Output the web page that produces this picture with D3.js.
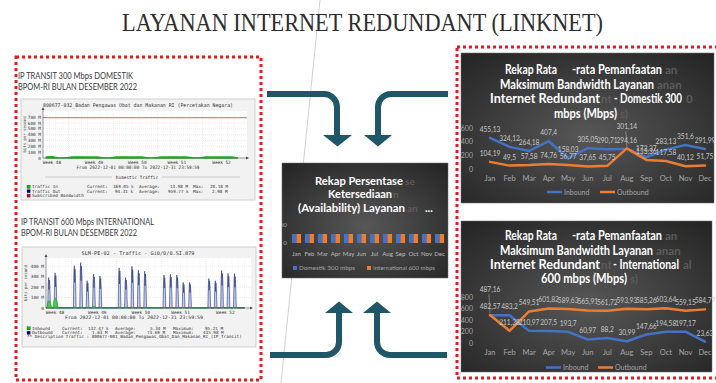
<!DOCTYPE html>
<html>
<head>
<meta charset="utf-8">
<title>Layanan Internet Redundant (Linknet)</title>
<script src="https://cdn.jsdelivr.net/npm/d3@7/dist/d3.min.js"></script>
<style>
  body { margin: 0; background: #fff; }
  svg { display: block; }
  text { white-space: pre; }
</style>
</head>
<body>
<div id="viz"></div>
<script>
var w = 716;
var h = 383;

// ---- values ----
var months = ["Jan", "Feb", "Mar", "Apr", "May", "Jun", "Jul", "Aug", "Sep", "Oct", "Nov", "Dec"];

// domestik 300 mbps (Mbps)
var domInbound  = [455.13, 324.12, 264.18, 407.4, 158.03, 305.05, 290.71, 294.16, 172.37, 283.13, 351.6, 291.99];
var domOutbound = [104.19, 49.5, 57.58, 74.76, 56.77, 37.65, 45.75, 301.14, 133.36, 117.58, 40.12, 51.75];
var domTicks = [0, 200, 400, 600];
var domTitle = ["Rekap Rata   -rata Pemanfaatan", "Maksimum Bandwidth Layanan", "Internet Redundant    - Domestik 300", "mbps (Mbps)"];

// international 600 mbps (Mbps)
var intInbound  = [482.57, 483.2, 210.97, 207.5, 193.7, 60.97, 88.2, 30.99, 147.66, 194.58, 197.17, 23.63];
var intOutbound = [487.16, 211.38, 549.51, 601.82, 589.63, 565.91, 561.72, 593.93, 585.26, 603.64, 559.15, 584.77];
var intTicks = [0, 200, 400, 600, 800];
var intTitle = ["Rekap Rata   -rata Pemanfaatan", "Maksimum Bandwidth Layanan", "Internet Redundant    - International", "600 mbps (Mbps)"];

// availability (%)
var availDom = [99.98, 100, 99.97, 100, 99.95, 100, 99.99, 100, 99.96, 100, 99.98, 100];
var availInt = [100, 99.97, 100, 99.99, 100, 99.96, 100, 99.98, 100, 99.97, 100, 99.99];
var availTicks = [0, 200];
var availTitle = ["Rekap Persentase", "Ketersediaan", "(Availability) Layanan"];
var availSeries = ["Domestik 300 mbps", "International 600 mbps"];

// mrtg screenshots, one value per day of december 2022 (M)
var weekLabels = ["Week 48", "Week 49", "Week 50", "Week 51", "Week 52"];
var weekDays = [1.4, 8, 14.8, 21, 28];
var domDailyIn = [18, 20.18, 3, 3, 19, 20, 19, 18, 17, 3, 3, 19, 20, 19, 18, 17, 3, 3, 18, 19, 20, 18, 17, 3, 3, 16, 18, 19, 18, 17, 3];
var domSubscribed = 690;
var domMrtgTicks = [0, 100, 200, 300, 400, 500, 600, 700];
var intDailyOut = [292, 338, 0, 0, 406, 436, 262, 323, 308, 0, 0, 385, 292, 400, 363, 354, 0, 0, 317, 323, 317, 246, 246, 0, 0, 283, 262, 360, 332, 329, 0];
var intDailyIn = [70, 95.21, 0, 0, 6, 5, 6, 14, 8, 0, 0, 5, 6, 5, 4, 5, 0, 0, 4, 5, 5, 4, 4, 0, 0, 4, 4, 5, 4, 4, 0];
var intMrtgTicks = [0, 100, 200, 300, 400];

var blue = "#4472c4", orange = "#ed7d31";
var teal = "#1f5768", dotRed = "#e8191f";

var svg = d3.select("#viz")
    .append("svg")
    .attr("width", w)
    .attr("height", h)
    .style("font-family", "Lato, 'Open Sans', sans-serif");

var defs = svg.append("defs");
var grad = defs.append("radialGradient").attr("id", "darkBg")
    .attr("cx", "50%").attr("cy", "55%").attr("r", "70%");
grad.append("stop").attr("offset", "0%").attr("stop-color", "#575757");
grad.append("stop").attr("offset", "100%").attr("stop-color", "#262626");

function fmt(v) { return String(v).replace(".", ","); }

// faint diagonal line behind everything
svg.append("line")
    .attr("x1", 320).attr("y1", 0).attr("x2", 281).attr("y2", h)
    .attr("stroke", "#c4c4c4").attr("stroke-width", 0.8);

// slide title
svg.append("text")
    .attr("x", 122).attr("y", 31)
    .attr("textLength", 481).attr("lengthAdjust", "spacingAndGlyphs")
    .attr("font-family", "'Liberation Serif', 'DejaVu Serif', serif")
    .attr("font-size", 26)
    .attr("fill", "#2e2e2e")
    .text("LAYANAN INTERNET REDUNDANT (LINKNET)");

// red dotted frames
svg.append("rect").attr("x", 16).attr("y", 57).attr("width", 245).attr("height", 323)
    .attr("fill", "none").attr("stroke", dotRed).attr("stroke-width", 3).attr("stroke-dasharray", "3 3");
svg.append("rect").attr("x", 457).attr("y", 47).attr("width", 280).attr("height", 331)
    .attr("fill", "none").attr("stroke", dotRed).attr("stroke-width", 3).attr("stroke-dasharray", "3 3");

// ---------- chart titles: white text, with the grey shadow copy peeking out ----------
// a line with a wide gap is split into pieces, each piece gets [x, width]
function titleBlock(g, lines, layout, ghosts, size) {
    lines.forEach(function(s, i) {
        var L = layout[i];
        (ghosts[i] || []).forEach(function(gh) {
            g.append("text").attr("x", gh[1]).attr("y", L.y)
                .attr("font-size", size - 1).attr("font-weight", "bold")
                .attr("fill", "#5c5c5c").text(gh[0]);
        });
        s.split(/\s{3,}/).forEach(function(piece, k) {
            g.append("text").attr("x", L.seg[k][0]).attr("y", L.y)
                .attr("textLength", L.seg[k][1]).attr("lengthAdjust", "spacingAndGlyphs")
                .attr("font-size", size).attr("font-weight", "bold")
                .attr("fill", "#ffffff").text(piece);
        });
    });
}

// ---------- line charts on the right ----------
function lineChart(o) {
    var g = svg.append("g");
    g.append("rect").attr("x", o.box[0]).attr("y", o.box[1])
        .attr("width", o.box[2]).attr("height", o.box[3])
        .attr("fill", "url(#darkBg)").attr("stroke", "#6a6a6a").attr("stroke-width", 0.5);

    titleBlock(g, o.title, o.titleLayout, o.ghosts, 12.5);

    var x = d3.scalePoint().domain(months).range([490, 705]);
    var y = d3.scaleLinear().domain([0, d3.max(o.ticks)]).range(o.yRange);

    g.selectAll("text.ytick").data(o.ticks).enter().append("text")
        .attr("class", "ytick")
        .attr("x", 473).attr("y", function(d) { return y(d) + 2.5; })
        .attr("text-anchor", "end").attr("font-size", 7).attr("fill", "#a6a6a6")
        .text(function(d) { return d; });

    g.selectAll("text.xtick").data(months).enter().append("text")
        .attr("class", "xtick")
        .attr("x", function(d) { return x(d); }).attr("y", o.xLabelY)
        .attr("text-anchor", "middle").attr("font-size", 7.5).attr("fill", "#a6a6a6")
        .text(function(d) { return d; });

    var line = d3.line()
        .x(function(d, i) { return x(months[i]); })
        .y(function(d) { return y(d); });

    var series = [{ v: o.inbound, c: blue }, { v: o.outbound, c: orange }];
    series.forEach(function(s) {
        g.append("path").datum(s.v)
            .attr("d", line)
            .attr("fill", "none").attr("stroke", s.c).attr("stroke-width", 2.5)
            .attr("stroke-linejoin", "round").attr("stroke-linecap", "round");
    });

    series.forEach(function(s, si) {
        g.selectAll("text.dl" + si).data(s.v).enter().append("text")
            .attr("class", "dl" + si)
            .attr("x", function(d, i) { return x(months[i]); })
            .attr("y", function(d, i) {
                var lift = (o.lift[si] && o.lift[si][i]) || 0;
                return y(d) - 6 - lift;
            })
            .attr("text-anchor", "middle").attr("font-size", 6.6).attr("fill", "#c9c9c9")
            .text(fmt);
        // leader lines for labels that were moved up
        Object.keys(o.lift[si] || {}).forEach(function(k) {
            var i = +k, lift = o.lift[si][k];
            g.append("line")
                .attr("x1", x(months[i]) - 1).attr("x2", x(months[i]))
                .attr("y1", y(s.v[i]) - 4 - lift).attr("y2", y(s.v[i]) - 2)
                .attr("stroke", "#bfbfbf").attr("stroke-width", 0.5);
        });
    });

    // legend
    var ly = o.legendY;
    var lg = g.append("g");
    lg.append("line").attr("x1", o.legendX[0]).attr("x2", o.legendX[0] + 15).attr("y1", ly).attr("y2", ly)
        .attr("stroke", blue).attr("stroke-width", 2.5);
    lg.append("text").attr("x", o.legendX[0] + 17).attr("y", ly + 2.5).attr("font-size", 7).attr("fill", "#a6a6a6").text("Inbound");
    lg.append("line").attr("x1", o.legendX[1]).attr("x2", o.legendX[1] + 15).attr("y1", ly).attr("y2", ly)
        .attr("stroke", orange).attr("stroke-width", 2.5);
    lg.append("text").attr("x", o.legendX[1] + 17).attr("y", ly + 2.5).attr("font-size", 7).attr("fill", "#a6a6a6").text("Outbound");
}

lineChart({
    box: [461, 53, 253, 150],
    title: domTitle,
    titleLayout: [
        { y: 74, seg: [[505, 52], [572, 90]] },
        { y: 88.5, seg: [[500, 154]] },
        { y: 103, seg: [[490, 110], [614, 68]] },
        { y: 117.5, seg: [[554, 63]] }
    ],
    ghosts: [[["an", 665]], [["anan", 657]], [["nt", 601], ["0", 686]], [["s)", 620]]],
    ticks: domTicks,
    yRange: [169, 128],
    xLabelY: 181,
    inbound: domInbound,
    outbound: domOutbound,
    lift: [{}, { 7: 13 }],
    legendY: 192,
    legendX: [547, 600]
});

lineChart({
    box: [461, 221, 251, 151],
    title: intTitle,
    titleLayout: [
        { y: 240, seg: [[505, 52], [572, 90]] },
        { y: 254.5, seg: [[500, 153]] },
        { y: 268.5, seg: [[490, 110], [613, 66]] },
        { y: 283, seg: [[541, 86]] }
    ],
    ghosts: [[["an", 665]], [["anan", 656]], [["nt", 601], ["al", 683]], [["s)", 630]]],
    ticks: intTicks,
    yRange: [343, 297],
    xLabelY: 355,
    inbound: intInbound,
    outbound: intOutbound,
    lift: [{}, { 0: 17 }],
    legendY: 367.5,
    legendX: [546, 598]
});

// ---------- availability bar chart in the middle ----------
(function() {
    var g = svg.append("g");
    defs.append("clipPath").attr("id", "availClip")
        .append("rect").attr("x", 282).attr("y", 163).attr("width", 166).attr("height", 115);
    g.append("rect").attr("x", 282).attr("y", 163).attr("width", 166).attr("height", 115)
        .attr("fill", "url(#darkBg)").attr("stroke", "#6a6a6a").attr("stroke-width", 0.5);

    titleBlock(g, availTitle,
        [{ y: 185, seg: [[315, 88]] }, { y: 198, seg: [[328, 64]] }, { y: 211.5, seg: [[298, 107]] }],
        [[["se", 405]], [["n", 393]], [["an", 407]]], 11);
    g.append("text").attr("x", 425).attr("y", 211.5).attr("font-size", 11).attr("font-weight", "bold")
        .attr("fill", "#fff").text("...");

    var x = d3.scaleBand().domain(months).range([290, 446]).paddingInner(0.3).paddingOuter(0.15);
    var sub = d3.scaleBand().domain([0, 1]).range([0, x.bandwidth()]);
    var y = d3.scaleLinear().domain([0, d3.max(availTicks)]).range([243, 225]);

    g.append("g").attr("clip-path", "url(#availClip)")
        .selectAll("text").data(availTicks).enter().append("text")
        .attr("x", 287).attr("y", function(d) { return y(d) + 2.2; })
        .attr("text-anchor", "end").attr("font-size", 6.3).attr("fill", "#a6a6a6")
        .text(function(d) { return d; });

    [availDom, availInt].forEach(function(vals, si) {
        g.selectAll("rect.b" + si).data(vals).enter().append("rect")
            .attr("class", "b" + si)
            .attr("x", function(d, i) { return x(months[i]) + sub(si); })
            .attr("y", function(d) { return y(d); })
            .attr("width", sub.bandwidth())
            .attr("height", function(d) { return y(0) - y(d); })
            .attr("fill", si === 0 ? blue : orange);
    });

    g.selectAll("text.m").data(months).enter().append("text")
        .attr("class", "m")
        .attr("x", function(d) { return x(d) + x.bandwidth() / 2; }).attr("y", 255.5)
        .attr("text-anchor", "middle").attr("font-size", 6.1).attr("fill", "#bfbfbf")
        .text(function(d) { return d; });

    var lx = [[293, 299, 56], [367, 373, 62]];
    availSeries.forEach(function(s, i) {
        g.append("rect").attr("x", lx[i][0]).attr("y", 266).attr("width", 4).attr("height", 4)
            .attr("fill", i === 0 ? blue : orange);
        g.append("text").attr("x", lx[i][1]).attr("y", 270)
            .attr("textLength", lx[i][2]).attr("lengthAdjust", "spacingAndGlyphs")
            .attr("font-size", 6).attr("fill", "#a6a6a6").text(s);
    });
})();

// ---------- arrows ----------
var arrows = [
    { d: "M267,94 H324 A13,13 0 0 1 337,107 V136", head: [[323, 135], [352, 135], [337.5, 146.5]] },
    { d: "M448,94 H391 A13,13 0 0 0 378,107 V136", head: [[364, 135], [392, 135], [378, 146.5]] },
    { d: "M270,355 H326 A13,13 0 0 0 339,342 V312", head: [[325, 313], [353, 313], [339, 301.5]] },
    { d: "M447,355 H390 A13,13 0 0 1 377,342 V312", head: [[363, 313], [391, 313], [377, 301.5]] }
];
arrows.forEach(function(a) {
    svg.append("path").attr("d", a.d).attr("fill", "none").attr("stroke", teal).attr("stroke-width", 6);
    svg.append("polygon").attr("points", a.head.map(function(p) { return p.join(","); }).join(" ")).attr("fill", teal);
});

// ---------- left panel: mrtg screenshots ----------
var mono = "'DejaVu Sans Mono', 'Liberation Mono', monospace";
var spikeShape = [[0.27, 0], [0.35, 0.8], [0.42, 1], [0.47, 0.6], [0.53, 0.92], [0.6, 0.72], [0.7, 0]];
var humpShape = [[0.05, 0], [0.3, 0.85], [0.45, 1], [0.65, 0.8], [0.95, 0]];

function mrtg(o) {
    var g = svg.append("g");
    g.append("rect").attr("x", o.box[0]).attr("y", o.box[1]).attr("width", o.box[2]).attr("height", o.box[3])
        .attr("fill", "#f2f2f2").attr("stroke", "#c6c6c6").attr("stroke-width", 0.8);
    g.append("text").attr("x", o.titleX).attr("y", o.box[1] + 8).attr("text-anchor", "middle")
        .attr("textLength", o.titleW).attr("lengthAdjust", "spacingAndGlyphs")
        .attr("font-family", mono).attr("font-size", 5.2).attr("fill", "#333").text(o.title);

    var x = d3.scaleLinear().domain([0, 32]).range(o.xr);
    var y = d3.scaleLinear().domain(o.yd).range(o.yr);

    g.append("rect").attr("x", o.xr[0]).attr("y", o.yr[1]).attr("width", o.xr[1] - o.xr[0]).attr("height", o.yr[0] - o.yr[1])
        .attr("fill", "#fff");
    g.selectAll("line.vg").data(d3.range(1, 32)).enter().append("line")
        .attr("x1", function(d) { return x(d); }).attr("x2", function(d) { return x(d); })
        .attr("y1", o.yr[0]).attr("y2", o.yr[1])
        .attr("stroke", function(d) { return (d - 4) % 7 === 0 ? "#f1caca" : "#ececec"; })
        .attr("stroke-width", 0.5).attr("stroke-dasharray", "1 1");
    g.selectAll("line.hg").data(o.ticks.slice(1)).enter().append("line")
        .attr("x1", o.xr[0]).attr("x2", o.xr[1])
        .attr("y1", function(d) { return y(d); }).attr("y2", function(d) { return y(d); })
        .attr("stroke", "#dcdcdc").attr("stroke-width", 0.5).attr("stroke-dasharray", "1 1");

    o.draw(g, x, y);

    // axes with small arrow heads
    g.append("path").attr("d", "M" + o.xr[0] + "," + (o.yr[1] - 3) + " V" + o.yr[0] + " H" + (o.xr[1] + 1))
        .attr("fill", "none").attr("stroke", "#555").attr("stroke-width", 0.6);
    g.append("path").attr("d", "M" + (o.xr[0] - 1.5) + "," + (o.yr[1] - 1) + " L" + o.xr[0] + "," + (o.yr[1] - 4) + " L" + (o.xr[0] + 1.5) + "," + (o.yr[1] - 1) + "Z")
        .attr("fill", "#555");
    g.append("path").attr("d", "M" + (o.xr[1] - 1) + "," + (o.yr[0] - 1.5) + " L" + (o.xr[1] + 2) + "," + o.yr[0] + " L" + (o.xr[1] - 1) + "," + (o.yr[0] + 1.5) + "Z")
        .attr("fill", "#555");

    g.selectAll("text.yt").data(o.ticks).enter().append("text")
        .attr("x", o.xr[0] - 2).attr("y", function(d) { return y(d) + 1.6; })
        .attr("text-anchor", "end").attr("font-family", mono).attr("font-size", 4.4).attr("fill", "#333")
        .text(function(d) { return d === 0 ? "0" : d + " M"; });
    g.append("text").attr("transform", "translate(" + (o.box[0] + 4.5) + "," + ((o.yr[0] + o.yr[1]) / 2) + ") rotate(-90)")
        .attr("text-anchor", "middle").attr("font-family", mono).attr("font-size", 4).attr("fill", "#444")
        .text("bits per second");

    g.selectAll("text.wk").data(weekLabels).enter().append("text")
        .attr("x", function(d, i) { return x(weekDays[i]); }).attr("y", o.yr[0] + 5.5)
        .attr("text-anchor", "middle").attr("font-family", mono).attr("font-size", 4.4).attr("fill", "#333")
        .text(function(d) { return d; });
    g.append("text").attr("x", o.fromX).attr("y", o.yr[0] + 10.5).attr("text-anchor", "middle")
        .attr("textLength", o.fromW).attr("lengthAdjust", "spacingAndGlyphs")
        .attr("font-family", mono).attr("font-size", 4.6).attr("fill", "#333")
        .text("From 2022-12-01 00:00:00 To 2022-12-31 23:59:59");

    if (o.header) {
        var hy = o.header.y;
        g.append("line").attr("x1", 45).attr("x2", 112).attr("y1", hy - 1.5).attr("y2", hy - 1.5).attr("stroke", "#888").attr("stroke-width", 0.4);
        g.append("line").attr("x1", 162).attr("x2", 240).attr("y1", hy - 1.5).attr("y2", hy - 1.5).attr("stroke", "#888").attr("stroke-width", 0.4);
        g.append("text").attr("x", 137).attr("y", hy).attr("text-anchor", "middle")
            .attr("font-family", mono).attr("font-size", 4.4).attr("fill", "#333").text(o.header.text);
    }

    o.legend.forEach(function(row) {
        if (row.color) {
            g.append("rect").attr("x", 27).attr("y", row.y - 3).attr("width", 3.2).attr("height", 3.2)
                .attr("fill", row.color).attr("stroke", "#333").attr("stroke-width", 0.3);
        }
        row.cells.forEach(function(c) {
            g.append("text").attr("x", c[0]).attr("y", row.y)
                .attr("font-family", mono).attr("font-size", 4.3).attr("fill", "#333").text(c[1]);
        });
    });
}

function shapePoints(vals, shape, base) {
    var pts = [];
    vals.forEach(function(v, i) {
        if (v > 0) {
            shape.forEach(function(s) { pts.push({ t: i + s[0], v: base + s[1] * (v - base) }); });
        }
    });
    return pts;
}

svg.append("text").attr("x", 18).attr("y", 79)
    .attr("textLength", 115).attr("lengthAdjust", "spacingAndGlyphs")
    .attr("font-size", 8.6).attr("fill", "#3a3a3a").text("IP TRANSIT 300 Mbps DOMESTIK");
svg.append("text").attr("x", 18).attr("y", 90)
    .attr("textLength", 119).attr("lengthAdjust", "spacingAndGlyphs")
    .attr("font-size", 8.6).attr("fill", "#3a3a3a").text("BPOM-RI BULAN DESEMBER 2022");

mrtg({
    box: [21, 99, 234, 101],
    title: "800677-032_Badan Pengawas Obat dan Makanan RI (Percetakan Negara)",
    titleX: 138, titleW: 190,
    xr: [43, 247], yd: [0, 805], yr: [158, 111],
    ticks: domMrtgTicks,
    fromX: 138, fromW: 123,
    header: { y: 178.5, text: "Domestic Traffic" },
    legend: [
        { y: 188.2, color: "#00c000", cells: [[32, "Traffic In"], [87, "Current:"], [113, "369.05 k"], [139, "Average:"], [170, "13.98 M"], [193, "Max:"], [210, "20.18 M"]] },
        { y: 192.6, color: "#0000b0", cells: [[32, "Traffic Out"], [87, "Current:"], [115, "94.31 k"], [139, "Average:"], [168, "959.77 k"], [193, "Max:"], [212, "2.98 M"]] },
        { y: 197, color: "#a02020", cells: [[32, "Subscribed Bandwidth"]] }
    ],
    draw: function(g, x, y) {
        var area = d3.area().curve(d3.curveMonotoneX)
            .x(function(d, i) { return x(i + 0.5); }).y0(y(0)).y1(function(d) { return y(d); });
        g.append("path").datum(domDailyIn).attr("d", area)
            .attr("fill", "#33cc33").attr("stroke", "#22b022").attr("stroke-width", 1.4);
        g.append("line").attr("x1", x(0)).attr("x2", x(32))
            .attr("y1", y(domSubscribed)).attr("y2", y(domSubscribed))
            .attr("stroke", "#c84040").attr("stroke-width", 0.8);
    }
});

svg.append("text").attr("x", 21).attr("y", 225)
    .attr("textLength", 133).attr("lengthAdjust", "spacingAndGlyphs")
    .attr("font-size", 8.6).attr("fill", "#3a3a3a").text("IP TRANSIT 600 Mbps INTERNATIONAL");
svg.append("text").attr("x", 21).attr("y", 236)
    .attr("textLength", 116).attr("lengthAdjust", "spacingAndGlyphs")
    .attr("font-size", 8.6).attr("fill", "#3a3a3a").text("BPOM-RI BULAN DESEMBER 2022");

mrtg({
    box: [22, 247, 234, 100],
    title: "SLM-PE-02 - Traffic - Gi0/0/0.SI.879",
    titleX: 138, titleW: 113,
    xr: [46, 251], yd: [0, 480], yr: [308, 258],
    ticks: intMrtgTicks,
    fromX: 134, fromW: 138,
    legend: [
        { y: 329.8, color: "#00c000", cells: [[32, "Inbound"], [62, "Current:"], [88, "132.47 k"], [115, "Average:"], [150, "5.34 M"], [173, "Maximum:"], [205, "95.21 M"]] },
        { y: 334.2, color: "#000080", cells: [[32, "Outbound"], [62, "Current:"], [92, "1.63 M"], [115, "Average:"], [147, "73.69 M"], [173, "Maximum:"], [203, "435.98 M"]] },
        { y: 338.4, color: null, cells: [[27, "** Description Traffic : 800677-001_Badan_Pengawas_Obat_Dan_Makanan_RI_(IP_Transit)"]] }
    ],
    draw: function(g, x, y) {
        var area = d3.area()
            .x(function(d) { return x(d.t); }).y0(y(0)).y1(function(d) { return y(d.v); });
        var outPts = [{ t: 0, v: 3 }].concat(shapePoints(intDailyOut, spikeShape, 3)).concat([{ t: 31, v: 3 }]);
        g.append("path").datum(outPts).attr("d", area)
            .attr("fill", "#c4cde8").attr("stroke", "#24337e").attr("stroke-width", 0.6);
        var inPts = [{ t: 0, v: 2 }].concat(shapePoints(intDailyIn, humpShape, 2)).concat([{ t: 31, v: 2 }]);
        g.append("path").datum(inPts).attr("d", area.curve(d3.curveMonotoneX))
            .attr("fill", "#33cc33").attr("fill-opacity", 0.85).attr("stroke", "#1fa01f").attr("stroke-width", 0.6);
    }
});
</script>
</body>
</html>
